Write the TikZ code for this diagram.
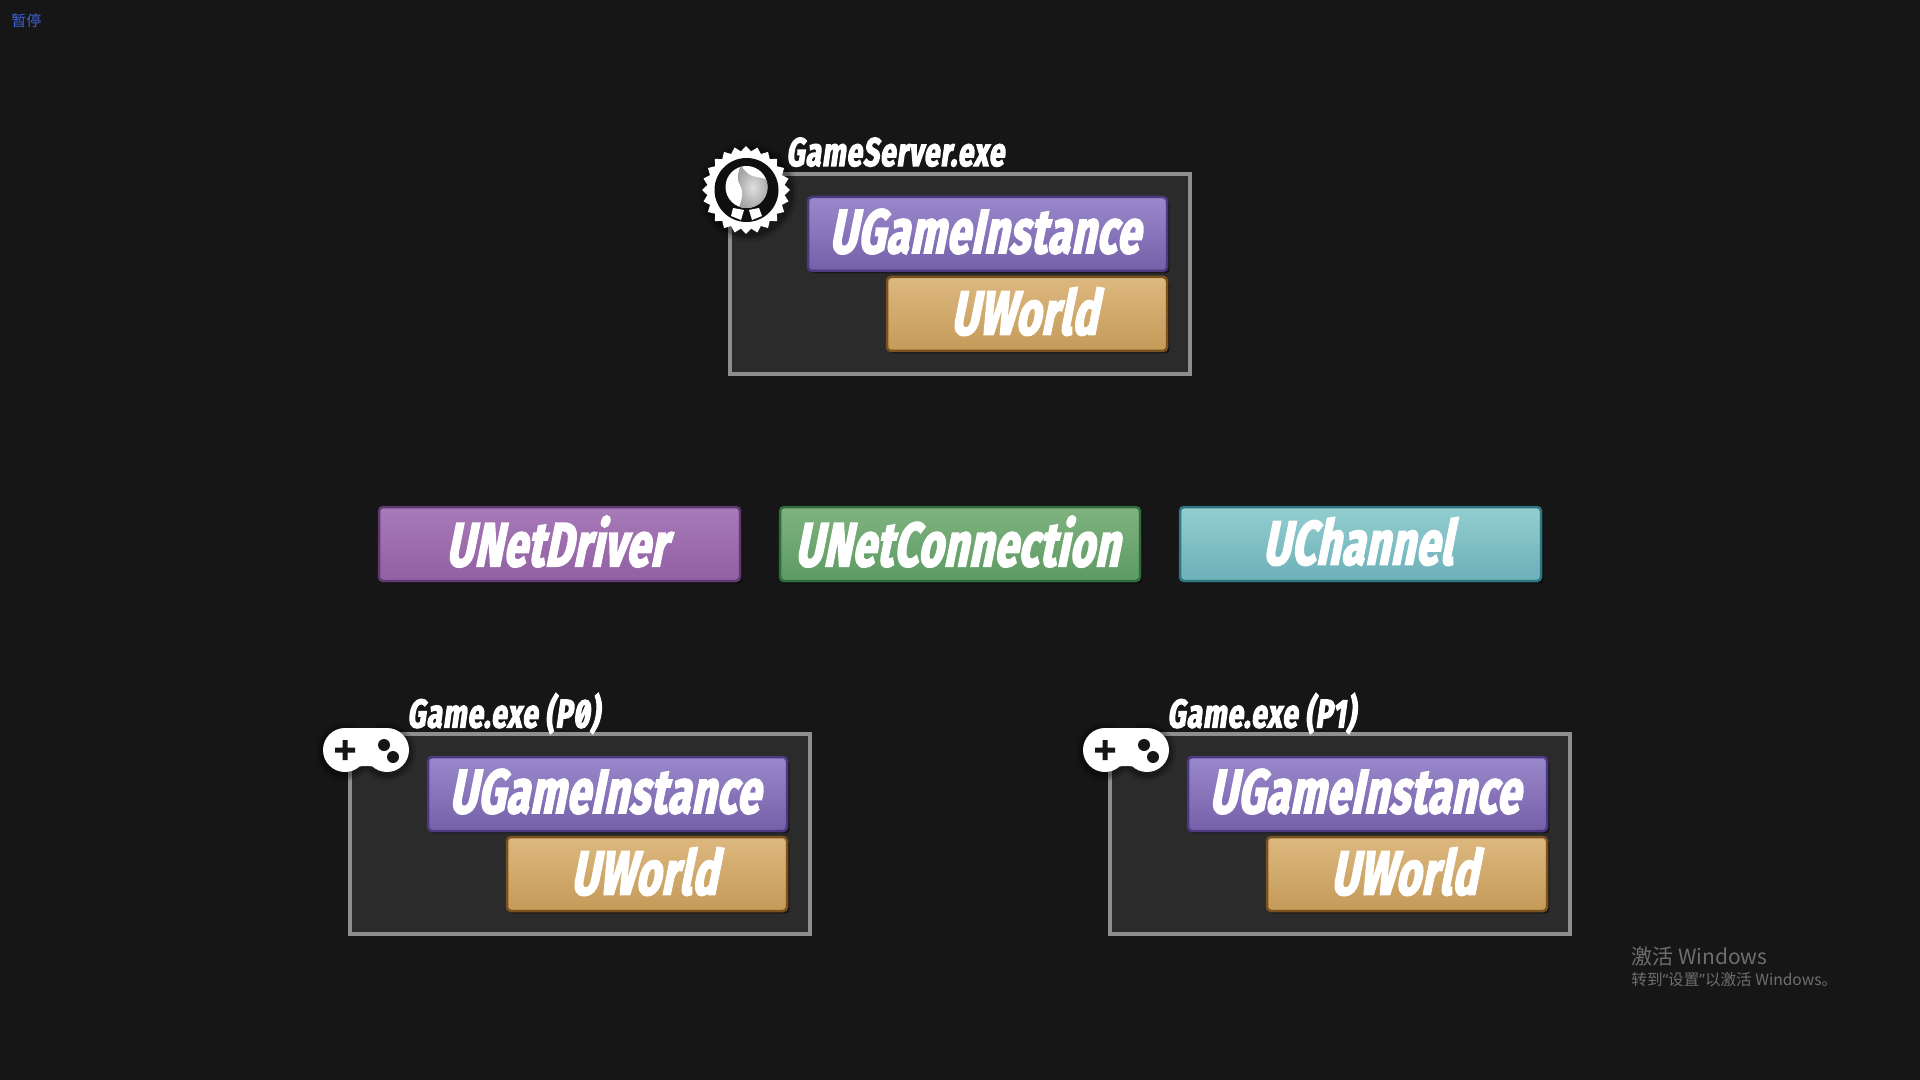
\documentclass[tikz,border=0pt]{standalone}
\usepackage{fontspec}
\usetikzlibrary{shapes.geometric,shadows}
\newfontfamily\boxfont[FakeStretch=.68,FakeSlant=.2,LetterSpace=1.5]{Fira Sans}
\newfontfamily\labelfont[FakeStretch=.70,FakeSlant=.14,LetterSpace=2.5,Numbers=SlashedZero]{Fira Sans}
\newfontfamily\cjkfont{Noto Sans CJK SC}
\newfontfamily\quotefont{Noto Sans}
\definecolor{bgc}{HTML}{161616}
\definecolor{framefill}{HTML}{2B2B2B}
\definecolor{frameline}{HTML}{8E8E8E}
\newcommand{\outl}[2]{\special{pdf:code 2 Tr #2 w #1 RG}}
\newcommand{\stopoutl}{\special{pdf:code 0 Tr 0.4 w}}
\tikzset{
  classbox/.style={rectangle,rounded corners=2pt,line width=1.25pt,minimum height=37pt,inner sep=0pt,text=white,text depth=3pt,
     font=\boxfont\bfseries\fontsize{31}{31}\selectfont,execute at end node={\stopoutl\kern3pt},
     drop shadow={shadow xshift=1.2pt,shadow yshift=-1.2pt,opacity=.55,fill=black}},
  instbox/.style={classbox,minimum width=179.5pt,top color=c9A88CC,bottom color=c7460A8,draw=c4B3A80,
     execute at begin node={\outl{.2 .14 .38}{.9}}},
  worldbox/.style={classbox,minimum width=140pt,top color=cDDB87F,bottom color=cC49A58,draw=c7A5220,
     execute at begin node={\outl{.32 .2 .06}{.9}}},
  driverbox/.style={classbox,minimum width=180.5pt,top color=cAC80BC,bottom color=c9362A6,draw=c5E3A70,
     execute at begin node={\outl{.26 .13 .3}{.9}}},
  connbox/.style={classbox,minimum width=180pt,top color=c7FB583,bottom color=c5B9A62,draw=c2F6B3C,
     execute at begin node={\outl{.1 .28 .14}{.9}}},
  chanbox/.style={classbox,minimum width=180.5pt,top color=c9AD4D4,bottom color=c6FB6BC,draw=c2F7680,
     execute at begin node={\outl{.1 .3 .32}{.9}}},
  procframe/.style={rectangle,draw=frameline,fill=framefill,line width=2pt,minimum width=230pt,minimum height=100pt,inner sep=0pt},
  proclabel/.style={anchor=base west,inner sep=0pt,text=white,font=\labelfont\bfseries\fontsize{20}{20}\selectfont,
     execute at begin node={\outl{.02 .02 .02}{.6}},execute at end node={\stopoutl}},
  wmark/.style={anchor=base west,inner sep=0pt,text=c6E6E6E},
}
\definecolor{c9A88CC}{HTML}{9A88CC}\definecolor{c7460A8}{HTML}{7460A8}\definecolor{c4B3A80}{HTML}{4B3A80}
\definecolor{cDDB87F}{HTML}{DDB87F}\definecolor{cC49A58}{HTML}{C49A58}\definecolor{c7A5220}{HTML}{7A5220}
\definecolor{cAC80BC}{HTML}{A87AB8}\definecolor{c9362A6}{HTML}{915FA3}\definecolor{c5E3A70}{HTML}{5E3A70}
\definecolor{c7FB583}{HTML}{7FB37F}\definecolor{c5B9A62}{HTML}{5C9A62}\definecolor{c2F6B3C}{HTML}{2F6B3C}
\definecolor{c9AD4D4}{HTML}{92CED0}\definecolor{c6FB6BC}{HTML}{6CB0B8}\definecolor{c2F7680}{HTML}{2F7680}
\definecolor{c6E6E6E}{HTML}{6E6E6E}\definecolor{c3A5CC8}{HTML}{3F63D8}
\definecolor{globedark}{HTML}{E0E0E0}\definecolor{globelight}{HTML}{A2A2A2}
\newcommand{\gamepad}[1]{%
  \begin{scope}[xshift=#1*0.5pt]
    \foreach \r/\o in {29/.10,27/.12,25/.16}{
      \fill[black,opacity=\o] (345,752) circle[radius=\r];
      \fill[black,opacity=\o] (387,752) circle[radius=\r];
    }
    \fill[white] (345,750) circle[radius=22] (387,750) circle[radius=22];
    \fill[white] (345,728) -- (387,728) -- (395,768) .. controls (385,770) and (378,766) .. (366,766) .. controls (354,766) and (347,770) .. (337,768) -- cycle;
    \fill[bgc] (335,747.5) rectangle (355,752.5) (342.5,740) rectangle (347.5,760);
    \fill[bgc] (384,745) circle[radius=6] (393,757) circle[radius=6];
  \end{scope}}
\begin{document}
\begin{tikzpicture}[x=0.5pt,y=-0.5pt]
\useasboundingbox (0,0) rectangle (1920,1080);
\fill[bgc] (0,0) rectangle (1920,1080);

\node[text=c3A5CC8,anchor=base west,inner sep=0pt,font=\cjkfont\fontsize{7.5}{7.5}\selectfont] (pause) at (11,27) {暂停};

% server
\node[procframe] (serverframe) at (960,274) {};
\node[instbox] (serverinst) at (987.5,234) {UGameInstance};
\node[worldbox] (serverworld) at (1027,314) {UWorld};
\node[proclabel] (serverlabel) at (786,166) {GameServer.exe};
\foreach \r/\o in {50/.10,47/.14,45/.2}{\fill[black,opacity=\o] (748,192) circle[radius=\r];}
\node[star,star points=24,star point ratio=1.13,fill=white,minimum size=44pt,inner sep=0pt] (badge) at (746,190) {};
\fill[bgc!70!black] (746.5,190) circle[radius=32];
\fill[white] (746.5,187) circle[radius=21];
\begin{scope}
  \clip (746.5,187) circle[radius=21];
  \shade[inner color=globedark,outer color=globelight] (741,165) .. controls (743,170) and (748,174) .. (752,176) .. controls (756,177) and (763,178) .. (768,180) -- (770,210) -- (738,210) .. controls (742,200) and (744,192) .. (740,185) .. controls (736,178) and (738,172) .. (741,165) -- cycle;
\end{scope}
\fill[white] (733,208) -- (744,210) -- (741,220) -- (731,216) -- cycle;
\fill[white] (749,210) -- (759,208) -- (762,216) -- (752,220) -- cycle;

% middle
\node[driverbox] (driver) at (559.5,544) {UNetDriver};
\node[connbox] (conn) at (960,544) {UNetConnection};
\node[chanbox] (chan) at (1360.5,544) {UChannel};

% p0
\node[procframe] (p0frame) at (580,834) {};
\node[instbox] (p0inst) at (607.5,794) {UGameInstance};
\node[worldbox] (p0world) at (647,874) {UWorld};
\node[proclabel] (p0label) at (407,727.5) {Game.exe (P0)};
\gamepad{0}

% p1
\node[procframe] (p1frame) at (1340,834) {};
\node[instbox] (p1inst) at (1367.5,794) {UGameInstance};
\node[worldbox] (p1world) at (1407,874) {UWorld};
\node[proclabel] (p1label) at (1167,727.5) {Game.exe (P1)};
\gamepad{760}

\node[wmark,font=\cjkfont\fontsize{10.5}{10.5}\selectfont] (wm1) at (1631,964) {激活 Windows};
\node[wmark,font=\cjkfont\fontsize{7.8}{7.8}\selectfont] (wm2) at (1631,985) {转到{\quotefont “}设置{\quotefont ”}以激活 Windows。};
\end{tikzpicture}
\end{document}
